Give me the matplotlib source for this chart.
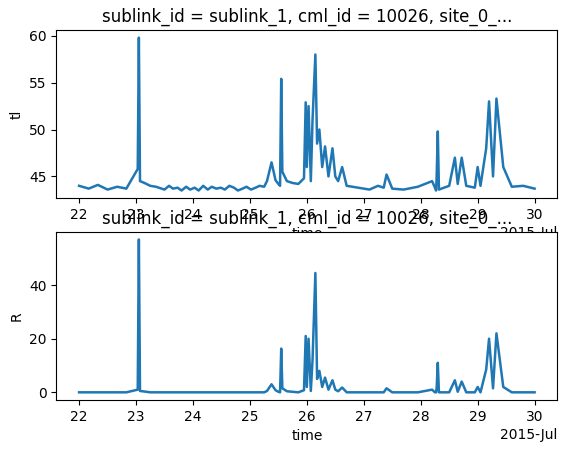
import numpy as np
import pandas as pd
import matplotlib
matplotlib.use('Agg')
import matplotlib.pyplot as plt
import matplotlib.dates as mdates

title = 'sublink_id = sublink_1, cml_id = 10026, site_0_...'

# days since 2015-07-22 00:00
days = [0, 0.17, 0.33, 0.5, 0.67, 0.83, 1.03, 1.05, 1.07, 1.15, 1.25, 1.35,
        1.5, 1.58, 1.65, 1.73, 1.8, 1.88, 1.95, 2.03, 2.1, 2.18, 2.26, 2.33,
        2.41, 2.49, 2.56, 2.64, 2.72, 2.79, 2.87, 2.94, 3.02, 3.1, 3.17, 3.25,
        3.3, 3.38, 3.45, 3.5, 3.53, 3.55, 3.57, 3.65, 3.75, 3.85, 3.95, 3.98,
        4.0, 4.03, 4.07, 4.1, 4.15, 4.18, 4.22, 4.27, 4.32, 4.38, 4.45, 4.5,
        4.55, 4.62, 4.7, 4.9, 5.1, 5.25, 5.35, 5.4, 5.5, 5.7, 5.95, 6.2,
        6.25, 6.27, 6.28, 6.3, 6.32, 6.5, 6.6, 6.65, 6.72, 6.8, 6.95, 7.0,
        7.05, 7.15, 7.2, 7.27, 7.33, 7.45, 7.6, 7.8, 8.0]
tl = [44.0, 43.7, 44.1, 43.6, 43.9, 43.7, 45.8, 59.8, 44.5, 44.3, 44.0, 43.9, 43.6, 44.0, 43.7, 43.8, 43.5, 43.9,
      43.6, 43.8, 43.5, 44.0, 43.6, 43.9, 43.7, 43.8, 43.6, 44.0, 43.8, 43.5, 43.7, 43.9, 43.6, 43.8, 44.0, 43.9,
      44.5, 46.5, 44.6, 44.2, 44.0, 55.4, 45.5, 44.5, 44.3, 44.2, 44.8, 52.9, 46.0, 52.5, 44.5, 51.0, 58.0, 48.5,
      50.0, 46.0, 48.2, 45.0, 48.0, 45.0, 44.5, 46.0, 44.0, 43.8, 43.6, 44.0, 43.8, 45.2, 43.7, 43.6, 43.9,
      44.5, 43.8, 43.5, 45.0, 49.8, 43.6, 44.0, 47.0, 44.2, 47.0, 44.0, 43.8, 46.0, 44.0, 48.0, 53.0, 45.0, 53.3, 46.0, 43.9, 44.0, 43.7]
rain = [0, 0, 0, 0, 0, 0, 1.0, 57, 0.5, 0.3, 0, 0, 0, 0, 0, 0, 0, 0,
        0, 0, 0, 0, 0, 0, 0, 0, 0, 0, 0, 0, 0, 0, 0, 0, 0, 0,
        0.5, 3.0, 0.8, 0.2, 0, 16.3, 1.5, 0.4, 0.2, 0, 0.8, 21.0, 2.0, 20.0, 0.5, 12.0, 44.5, 5.0,
        8.0, 2.0, 5.5, 1.0, 4.5, 1.0, 0.4, 1.8, 0, 0, 0, 0, 0, 1.5, 0, 0, 0,
        1.0, 0, 0, 1.8, 11.0, 0, 0, 4.5, 0.2, 4.0, 0, 0, 2.0, 0, 8.5, 20.0, 1.5, 22.0, 2.0, 0, 0, 0]

time = pd.Timestamp('2015-07-22') + pd.to_timedelta(days, unit='D')

fig, (ax1, ax2) = plt.subplots(2, 1, figsize=(5.63, 4.54), dpi=100)
fig.subplots_adjust(left=0.10, right=0.99, top=0.934, bottom=0.119, hspace=0.2)

for ax, y, lab in [(ax1, tl, 'tl'), (ax2, rain, 'R')]:
    ax.plot(time, y, color='#1f77b4', lw=1.8)
    ax.set_ylabel(lab)
    ax.set_xlabel('time')
    ax.set_title(title)
    loc = mdates.DayLocator()
    ax.xaxis.set_major_locator(loc)
    ax.xaxis.set_major_formatter(mdates.ConciseDateFormatter(loc))

ax1.set_yticks([45, 50, 55, 60])
ax2.set_yticks([0, 20, 40])
fig.savefig('out.png')
